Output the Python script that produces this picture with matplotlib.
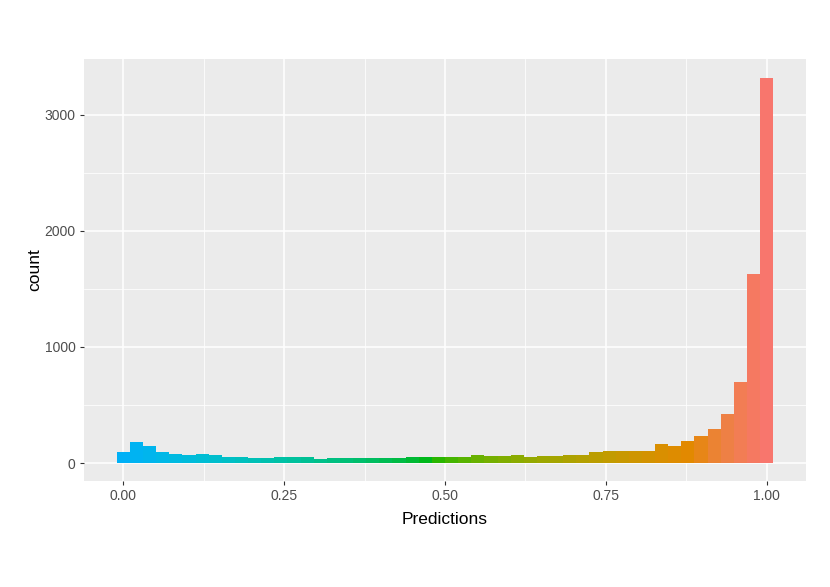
import numpy as np
import matplotlib
matplotlib.use('Agg')
import matplotlib.pyplot as plt
from matplotlib.ticker import MultipleLocator

# Histogram of predictions: 50 bins over [0, 1], counts
n_bins = 50
counts = [97, 181, 147, 95, 80, 65, 75, 66, 55, 55,
          47, 46, 48, 52, 52, 38, 45, 45, 46, 45,
          45, 46, 52, 54, 48, 52, 55, 68, 57, 57,
          67, 55, 60, 63, 65, 66, 95, 103, 104, 104,
          105, 163, 150, 192, 230, 290, 422, 695, 1625, 3315]
x_ticks = [0.0, 0.25, 0.5, 0.75, 1.0]
x_tick_labels = ['0.00', '0.25', '0.50', '0.75', '1.00']
y_ticks = [0, 1000, 2000, 3000]


def hcl_to_rgb(h, c=100.0, l=65.0):
    # polar LUV -> sRGB, like R's hcl()
    h = np.deg2rad(h)
    u_, v_ = c * np.cos(h), c * np.sin(h)
    xn, yn, zn = 95.047, 100.0, 108.883
    un = 4 * xn / (xn + 15 * yn + 3 * zn)
    vn = 9 * yn / (xn + 15 * yn + 3 * zn)
    y = yn * ((l + 16) / 116) ** 3
    u = u_ / (13 * l) + un
    v = v_ / (13 * l) + vn
    x = 9.0 * y * u / (4 * v)
    z = -x / 3 - 5 * y + 3 * y / v
    m = np.array([[3.240479, -1.537150, -0.498535],
                  [-0.969256, 1.875992, 0.041556],
                  [0.055648, -0.204043, 1.057311]])
    rgb = m @ (np.array([x, y, z]) / 100.0)
    rgb = np.where(rgb > 0.0031308, 1.055 * np.clip(rgb, 0, None) ** (1 / 2.4) - 0.055, 12.92 * rgb)
    return tuple(np.clip(rgb, 0, 1))


binw = 1.0 / (n_bins - 1)
centers = np.arange(n_bins) * binw
colors = [hcl_to_rgb(231 - (231 - 15) * c) for c in centers]

fig = plt.figure(figsize=(8.3, 5.87), dpi=100)
ax = fig.add_axes([84 / 830, 1 - 481 / 587, (806 - 84) / 830, (481 - 59) / 587])
ax.set_facecolor('#EBEBEB')

ax.bar(centers, counts, width=binw, color=colors, linewidth=0, zorder=3)

ax.set_xlim(-0.5 * binw - 0.051, 1 + 0.5 * binw + 0.051)
ax.set_ylim(-155, 3480)

ax.set_xticks(x_ticks)
ax.set_xticklabels(x_tick_labels)
ax.set_yticks(y_ticks)
ax.xaxis.set_minor_locator(MultipleLocator(0.125))
ax.yaxis.set_minor_locator(MultipleLocator(500))
ax.grid(which='major', color='white', linewidth=1.1, zorder=1)
ax.grid(which='minor', color='white', linewidth=0.55, zorder=1)
ax.set_axisbelow(True)
for s in ax.spines.values():
    s.set_visible(False)

ax.tick_params(which='major', length=3, width=0.8, color='#333333',
               labelsize=10, labelcolor='#4D4D4D', pad=3)
ax.tick_params(which='minor', length=0)
for lab in ax.get_xticklabels() + ax.get_yticklabels():
    lab.set_family('Liberation Sans')

ax.set_xlabel('Predictions', fontsize=12.5, family='Liberation Sans', labelpad=6)
ax.set_ylabel('count', fontsize=12.5, family='Liberation Sans', labelpad=2)

fig.savefig('out.png', dpi=100, facecolor='white')
